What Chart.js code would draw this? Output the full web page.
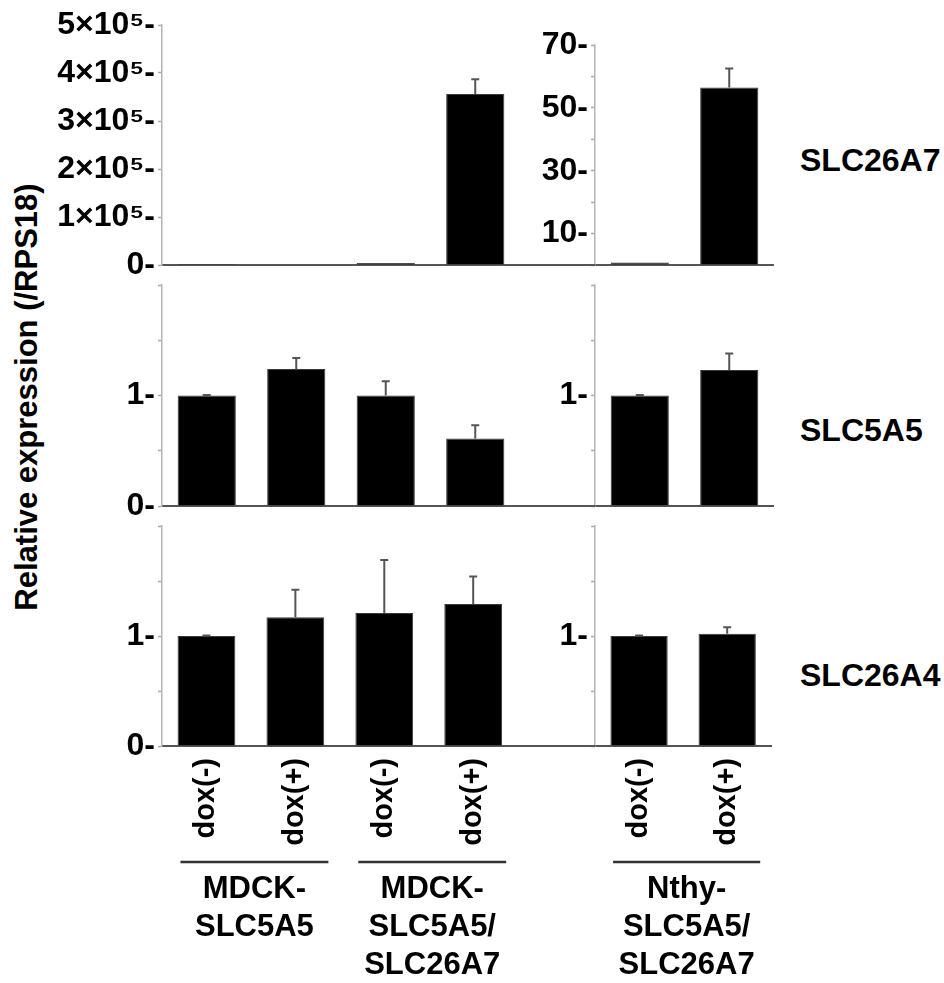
<!DOCTYPE html>
<html lang="en">
<head>
<meta charset="UTF-8" />
<title>Relative expression</title>
<style>
  body { margin: 0; background: #fff; font-family: "Liberation Sans", Arial, sans-serif; }
  .fig { position: relative; width: 944px; height: 983px; }
  .fig canvas { position: absolute; }
  .ytitle {
    position: absolute; left: 27px; top: 397px;
    transform: translate(-50%, -50%) rotate(-90deg);
    font-weight: bold; font-size: 31px; white-space: nowrap;
  }
  .gene { position: absolute; left: 800px; font-weight: bold; font-size: 32px; transform: translateY(-50%); }
</style>
</head>
<body>
<div class="fig">
  <div class="ytitle">Relative expression (/RPS18)</div>
  <canvas id="r1l" width="520" height="290" style="left:0;top:0"></canvas>
  <canvas id="r1r" width="262" height="290" style="left:512px;top:0"></canvas>
  <canvas id="r2l" width="520" height="271" style="left:0;top:260px"></canvas>
  <canvas id="r2r" width="262" height="271" style="left:512px;top:260px"></canvas>
  <canvas id="r3l" width="520" height="482" style="left:0;top:501px"></canvas>
  <canvas id="r3r" width="262" height="482" style="left:512px;top:501px"></canvas>
  <div class="gene" id="g0" style="top:160px"></div>
  <div class="gene" id="g1" style="top:430px"></div>
  <div class="gene" id="g2" style="top:675px"></div>
</div>

<script src="https://cdn.jsdelivr.net/npm/chart.js"></script>
<script>
  // categories
  const mdckCats = ['dox(-)', 'dox(+)', 'dox(-)', 'dox(+)'];
  const nthyCats = ['dox(-)', 'dox(+)'];
  const genes = ['SLC26A7', 'SLC5A5', 'SLC26A4'];
  const groupNames = [['MDCK-', 'SLC5A5'], ['MDCK-', 'SLC5A5/', 'SLC26A7'], ['Nthy-', 'SLC5A5/', 'SLC26A7']];

  // values (mean) and upper error
  const slc26a7Mdck = [1, 800, 4000, 356000];
  const slc26a7MdckErr = [0, 0, 0, 31000];
  const slc26a7Nthy = [0.8, 56.5];
  const slc26a7NthyErr = [0, 6];
  const slc5a5Mdck = [1, 1.24, 1.0, 0.61];
  const slc5a5MdckErr = [0.005, 0.10, 0.13, 0.12];
  const slc5a5Nthy = [1, 1.23];
  const slc5a5NthyErr = [0.005, 0.15];
  const slc26a4Mdck = [1, 1.17, 1.21, 1.29];
  const slc26a4MdckErr = [0.005, 0.25, 0.48, 0.25];
  const slc26a4Nthy = [1, 1.02];
  const slc26a4NthyErr = [0.005, 0.06];

  // tick labels shown (others are bare tick marks)
  const relTicksLeft = [0, 1];
  const relTicksRight = [1];
  const nthyA7Ticks = [10, 30, 50, 70];

  const FONT = '"Liberation Sans", Arial, sans-serif';
  genes.forEach((g, i) => document.getElementById('g' + i).textContent = g);

  const errorBars = {
    id: 'errorBars',
    afterDatasetsDraw(chart) {
      const ctx = chart.ctx, y = chart.scales.y;
      const ds = chart.data.datasets[0];
      ctx.save();
      ctx.strokeStyle = '#555';
      ctx.lineWidth = 2;
      chart.getDatasetMeta(0).data.forEach((bar, i) => {
        const e = ds.errors[i];
        if (!e) return;
        const top = y.getPixelForValue(ds.data[i] + e);
        ctx.beginPath();
        ctx.moveTo(bar.x, bar.y);
        ctx.lineTo(bar.x, top);
        ctx.moveTo(bar.x - 4, top);
        ctx.lineTo(bar.x + 4, top);
        ctx.stroke();
      });
      ctx.restore();
    }
  };

  // the x axis line runs on under the right panel's y labels
  const axisLead = {
    id: 'axisLead',
    afterDraw(chart) {
      const { ctx, chartArea } = chart;
      const yb = Math.round(chartArea.bottom);
      ctx.save();
      ctx.strokeStyle = '#555';
      ctx.lineWidth = 2;
      ctx.beginPath();
      ctx.moveTo(0, yb);
      ctx.lineTo(chartArea.left, yb);
      ctx.stroke();
      ctx.restore();
    }
  };

  function groupPlugin(groups) {
    return {
      id: 'groups',
      afterDraw(chart) {
        const { ctx, chartArea } = chart;
        const x = chart.scales.x;
        ctx.save();
        groups.forEach(g => {
          const x1 = x.getPixelForValue(g.from) - 26;
          const x2 = x.getPixelForValue(g.to) + 33;
          const yl = chartArea.bottom + 116;
          ctx.strokeStyle = '#333';
          ctx.lineWidth = 2.5;
          ctx.beginPath();
          ctx.moveTo(x1, yl);
          ctx.lineTo(x2, yl);
          ctx.stroke();
          ctx.fillStyle = '#000';
          ctx.font = 'bold 31px ' + FONT;
          ctx.textAlign = 'center';
          ctx.textBaseline = 'middle';
          g.lines.forEach((t, k) => ctx.fillText(t, (x1 + x2) / 2, yl + 27 + k * 38));
        });
        ctx.restore();
      }
    };
  }

  function yScale(max, step, fmt, width) {
    return {
      min: 0, max: max,
      ticks: {
        stepSize: step, autoSkip: false, padding: 3, color: '#000',
        font: { family: FONT, size: 32, weight: 'bold' },
        callback: fmt
      },
      grid: { drawOnChartArea: false, tickLength: 4, tickColor: '#aaa', tickWidth: 1.5 },
      border: { color: '#b3b3b3', width: 1.5 },
      afterFit(s) { s.width = width; }
    };
  }

  function xScale(height, showLabels) {
    return {
      grid: { display: false, drawTicks: false },
      border: { color: '#555', width: 2 },
      ticks: {
        display: showLabels, autoSkip: false, minRotation: 90, maxRotation: 90,
        padding: 12, color: '#000', font: { family: FONT, size: 29, weight: 'bold' }
      },
      afterFit(s) { s.height = height; }
    };
  }

  function panel(id, cats, values, errs, y, xs, padTop, extra) {
    new Chart(document.getElementById(id), {
      type: 'bar',
      data: {
        labels: cats,
        datasets: [{
          data: values, errors: errs,
          backgroundColor: '#000', borderColor: '#3a3a3a', borderWidth: 1,
          categoryPercentage: 1, barPercentage: 0.65
        }]
      },
      options: {
        responsive: false, animation: false,
        layout: { padding: { top: padTop, left: 0, right: 0, bottom: 0 } },
        plugins: { legend: { display: false }, tooltip: { enabled: false } },
        scales: { x: xs, y: y }
      },
      plugins: [errorBars].concat(extra || [])
    });
  }

  const pick = list => v => list.includes(v) ? v + '-' : '';

  // row 1: SLC26A7
  panel('r1l', mdckCats, slc26a7Mdck, slc26a7MdckErr,
    yScale(500000, 100000, v => v === 0 ? '0-' : (v / 100000) + '×10⁵-', 162),
    xScale(25, false), 25);
  panel('r1r', nthyCats, slc26a7Nthy, slc26a7NthyErr,
    yScale(70, 10, pick(nthyA7Ticks), 83),
    xScale(25, false), 45, [axisLead]);

  // row 2: SLC5A5
  panel('r2l', mdckCats, slc5a5Mdck, slc5a5MdckErr,
    yScale(2, 0.5, pick(relTicksLeft), 162), xScale(25, false), 25);
  panel('r2r', nthyCats, slc5a5Nthy, slc5a5NthyErr,
    yScale(2, 0.5, pick(relTicksRight), 83), xScale(25, false), 25, [axisLead]);

  // row 3: SLC26A4 with group labels
  panel('r3l', mdckCats, slc26a4Mdck, slc26a4MdckErr,
    yScale(2, 0.5, pick(relTicksLeft), 162), xScale(237, true), 25,
    [groupPlugin([{ from: 0, to: 1, lines: groupNames[0] }, { from: 2, to: 3, lines: groupNames[1] }])]);
  panel('r3r', nthyCats, slc26a4Nthy, slc26a4NthyErr,
    yScale(2, 0.5, pick(relTicksRight), 83), xScale(237, true), 25,
    [axisLead, groupPlugin([{ from: 0, to: 1, lines: groupNames[2] }])]);
</script>
</body>
</html>
